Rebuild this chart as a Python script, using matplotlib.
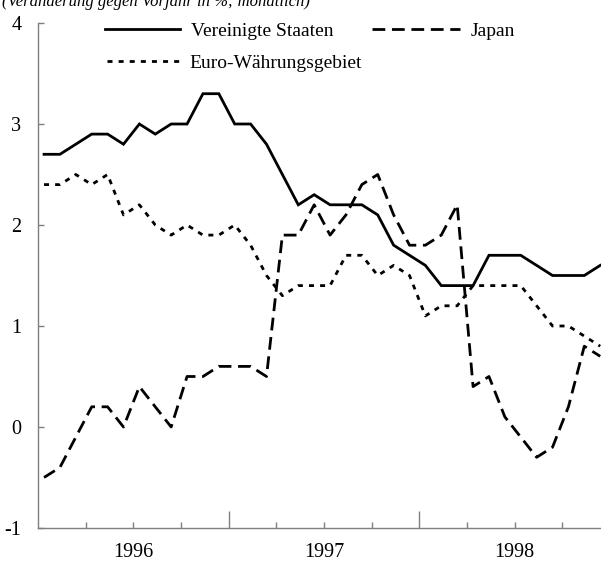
import matplotlib
matplotlib.use("Agg")
import matplotlib.pyplot as plt
import numpy as np

plt.rcParams['font.family'] = ['Liberation Serif', 'DejaVu Serif']

# monthly data Jan 1996 .. Dec 1998
us = [2.7, 2.7, 2.8, 2.9, 2.9, 2.8, 3.0, 2.9, 3.0, 3.0, 3.3, 3.3,
      3.0, 3.0, 2.8, 2.5, 2.2, 2.3, 2.2, 2.2, 2.2, 2.1, 1.8, 1.7,
      1.6, 1.4, 1.4, 1.4, 1.7, 1.7, 1.7, 1.6, 1.5, 1.5, 1.5, 1.6]
japan = [-0.5, -0.4, -0.1, 0.2, 0.2, 0.0, 0.4, 0.2, 0.0, 0.5, 0.5, 0.6,
         0.6, 0.6, 0.5, 1.9, 1.9, 2.2, 1.9, 2.1, 2.4, 2.5, 2.1, 1.8,
         1.8, 1.9, 2.2, 0.4, 0.5, 0.1, -0.1, -0.3, -0.2, 0.2, 0.8, 0.7]
euro = [2.4, 2.4, 2.5, 2.4, 2.5, 2.1, 2.2, 2.0, 1.9, 2.0, 1.9, 1.9,
        2.0, 1.8, 1.5, 1.3, 1.4, 1.4, 1.4, 1.7, 1.7, 1.5, 1.6, 1.5,
        1.1, 1.2, 1.2, 1.4, 1.4, 1.4, 1.4, 1.2, 1.0, 1.0, 0.9, 0.8]
years = ['1996', '1997', '1998']
yticks = [-1, 0, 1, 2, 3, 4]
series_names = ['Vereinigte Staaten', 'Japan', 'Euro-Währungsgebiet']
subtitle = '(Veränderung gegen Vorjahr in %; monatlich)'

W, H = 601, 561
fig = plt.figure(figsize=(W / 100, H / 100), dpi=100)
ax = fig.add_axes([38 / W, 33 / H, 1 - 38 / W, 505 / H])

x = np.arange(len(us)) + 0.38
lw = 2.0
l_us, = ax.plot(x, us, color='black', lw=lw, solid_joinstyle='miter')
l_jp, = ax.plot(x, japan, color='black', lw=lw, dashes=(4.6, 2.4))
l_eu, = ax.plot(x, euro, color='black', lw=lw, dashes=(1.8, 2.2))

ax.set_xlim(0, 35.43)
ax.set_ylim(-1, 4)

spine_col = '#7f7f7f'
for s in ['top', 'right']:
    ax.spines[s].set_visible(False)
for s in ['left', 'bottom']:
    ax.spines[s].set_color(spine_col)
    ax.spines[s].set_linewidth(1.0)

ax.set_yticks(yticks)
ax.set_yticklabels([str(v) for v in yticks])
ax.tick_params(axis='y', direction='in', length=4, width=1, color=spine_col,
               labelsize=14.5, pad=12)

ax.set_xticks([12, 24])
ax.set_xticklabels([])
ax.set_xticks([3, 6, 9, 15, 18, 21, 27, 30, 33], minor=True)
ax.tick_params(axis='x', which='major', direction='in', length=12, width=1,
               color=spine_col)
ax.tick_params(axis='x', which='minor', direction='in', length=4, width=1,
               color=spine_col, labelsize=14.5, pad=11)
ax.set_xticklabels(['', years[0], '', '', years[1], '', '', years[2], ''],
                   minor=True)

common = dict(frameon=False, loc='upper left', borderpad=0, borderaxespad=0,
              handletextpad=0.55, fontsize=14)
fs_px = 14 * 100 / 72
fig.legend([l_us], series_names[:1], bbox_to_anchor=(105 / W, 1 - 22 / H),
           handlelength=75 / fs_px, **common)
fig.legend([l_jp], series_names[1:2], bbox_to_anchor=(372 / W, 1 - 22 / H),
           handlelength=88 / fs_px, **common)
fig.legend([l_eu], series_names[2:], bbox_to_anchor=(107 / W, 1 - 54 / H),
           handlelength=72 / fs_px, **common)

fig.text(2 / W, 1 - 6 / H, subtitle, fontsize=12, style='italic',
         ha='left', va='baseline')

fig.savefig('out.png', dpi=100)
